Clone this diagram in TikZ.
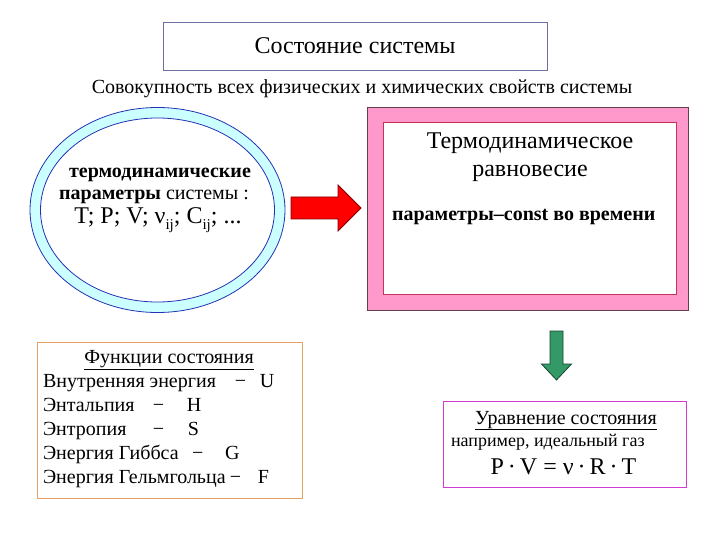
\documentclass[tikz,border=0pt]{standalone}
\usepackage{fontspec}
\setmainfont{Liberation Serif}
\usetikzlibrary{shapes.geometric}
\definecolor{titleframe}{RGB}{112,112,160}
\definecolor{ringfill}{RGB}{204,255,255}
\definecolor{ringline}{RGB}{35,50,180}
\definecolor{arrowred}{RGB}{255,0,0}
\definecolor{arrowredline}{RGB}{128,0,0}
\definecolor{pinkfill}{RGB}{255,153,204}
\definecolor{pinkouter}{RGB}{96,64,80}
\definecolor{pinkinner}{RGB}{200,50,90}
\definecolor{arrowgreen}{RGB}{51,153,102}
\definecolor{arrowgreenline}{RGB}{20,70,45}
\definecolor{funcframe}{RGB}{230,160,100}
\definecolor{eqframe}{RGB}{210,60,210}
\newcommand\myfs[1]{\fontsize{#1}{#1}\selectfont}
\newcommand\fline[4]{\makebox[#2pt][l]{#1}\makebox[#3pt][l]{−}#4}
\newcommand\lowsub[1]{\raisebox{-6pt}{\myfs{15}#1}}
\begin{document}
\begin{tikzpicture}[x=1pt,y=-1pt,
  every node/.style={inner sep=0pt, outer sep=0pt},
  txt/.style={anchor=base, font=\myfs{20}},
  txtw/.style={anchor=base west, font=\myfs{20}},
  box/.style={draw, line width=0.9pt, fill=white}]
\useasboundingbox (0,0) rectangle (720,540);

% title
\node[box, draw=titleframe, minimum width=384pt, minimum height=48pt, font=\myfs{24}] (title) at (355,46) {Состояние системы};
\node[txt] (sub) at (362,94) {Совокупность всех физических и химических свойств системы};

% ellipse
\node[ellipse, draw=ringline, fill=ringfill, line width=0.8pt, minimum width=255pt, minimum height=205pt] (ring) at (157.5,210) {};
\node[ellipse, draw=ringline, fill=white, line width=0.8pt, minimum width=234pt, minimum height=184pt] (params) at (157.5,210) {};
\node[txt, font=\myfs{20}\bfseries] (p1) at (160,178) {термодинамические};
\node[txt] (p2) at (154,200) {\textbf{параметры} системы :};
\node[txt, font=\myfs{24}] (p3) at (158,223) {T; P; V; ν\lowsub{ij}; C\lowsub{ij}; ...};

% red arrow
\draw[fill=arrowred, draw=arrowredline, line width=0.8pt, line join=miter]
  (291,197) -- (338,197) -- (338,185) -- (361,208) -- (338,231) -- (338,219) -- (291,219) -- cycle;

% pink box
\node[draw=pinkouter, fill=pinkfill, line width=0.8pt, minimum width=321pt, minimum height=203pt] (eqo) at (527.5,208.5) {};
\node[draw=pinkinner, fill=white, line width=0.8pt, minimum width=293pt, minimum height=172pt] (eqi) at (529.5,208) {};
\node[txt, font=\myfs{24}] (e1) at (530,149) {Термодинамическое};
\node[txt, font=\myfs{24}] (e2) at (530,177) {равновесие};
\node[txtw, font=\myfs{20}\bfseries] (e3) at (392,221) {параметры–const во времени};

% green arrow
\draw[fill=arrowgreen, draw=arrowgreenline, line width=0.8pt, line join=miter]
  (550,331) -- (563,331) -- (563,364) -- (571.5,364) -- (556.5,380) -- (541.5,364) -- (550,364) -- cycle;

% functions box
\node[box, draw=funcframe, minimum width=265pt, minimum height=156pt] (func) at (169.5,420) {};
\node[txt] (f0) at (169,363) {\underline{Функции состояния}};
\node[txtw] (f1) at (43,387.5) {\fline{Внутренняя энергия}{192}{25}{U}};
\node[txtw] (f2) at (43,411.5) {\fline{Энтальпия}{110}{34}{H}};
\node[txtw] (f3) at (43,435.5) {\fline{Энтропия}{110}{35}{S}};
\node[txtw] (f4) at (43,459.5) {\fline{Энергия Гиббса}{149}{33}{G}};
\node[txtw] (f5) at (43,483.5) {\fline{Энергия Гельмгольца}{187}{28}{F}};

% equation box
\node[box, draw=eqframe, minimum width=243pt, minimum height=86pt] (eq) at (564.5,444) {};
\node[txt] (q1) at (566,424) {\underline{Уравнение состояния}};
\node[txtw, font=\myfs{18}] (q2) at (451,446) {например, идеальный газ};
\node[txt, font=\myfs{24}] (q3) at (563.5,474) {P\,·\,V = ν\,·\,R\,·\,T};
\end{tikzpicture}
\end{document}
